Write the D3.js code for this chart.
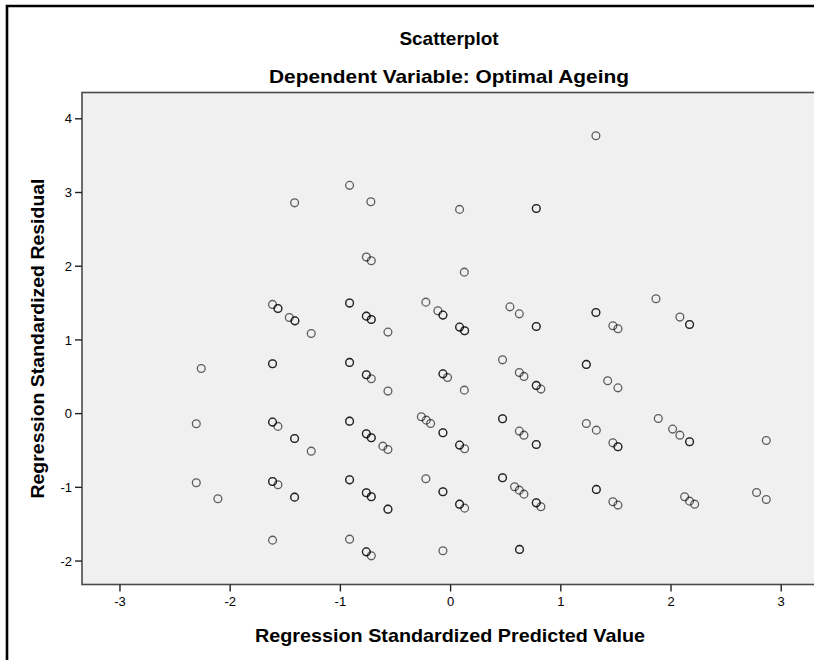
<!DOCTYPE html>
<html>
<head>
<meta charset="utf-8">
<script src="https://cdn.jsdelivr.net/npm/d3@7"></script>
<style>
    html, body { margin: 0; padding: 0; background: #fff; }
    svg { display: block; }
    text { font-family: "Liberation Sans", Arial, sans-serif; fill: #000; }
</style>
</head>
<body>
<div id="chart"></div>
<script>
var title = 'Scatterplot';
var subtitle = 'Dependent Variable: Optimal Ageing';
var xTitle = 'Regression Standardized Predicted Value';
var yTitle = 'Regression Standardized Residual';

var xTicks = [-3, -2, -1, 0, 1, 2, 3];
var yTicks = [-2, -1, 0, 1, 2, 3, 4];

// x = standardized predicted, y = standardized residual, n = overlapping cases
var predicted = [
    -1.411, -0.912, -0.719, 0.086, 0.782, 1.323, -0.76, -0.715, 0.129,
    -1.611, -1.562, -1.459, -1.408, -1.26, -0.912, -0.76, -0.715, -0.564,
    -0.22, -0.111, -0.065, 0.086, 0.132, 0.543, 0.628, 0.782,
    1.323, 1.477, 1.523, 1.868, 2.085, 2.173,
    -2.258, -1.611, -0.912, -0.76, -0.715, -0.564, -0.065, -0.023, 0.129,
    0.476, 0.628, 0.67, 0.782, 0.824, 1.236, 1.43, 1.523,
    -2.303, -1.611, -1.562, -1.411, -1.26, -0.912, -0.76, -0.715, -0.61, -0.564,
    -0.261, -0.216, -0.177, -0.065, 0.086, 0.132, 0.476, 0.628, 0.67, 0.782,
    1.236, 1.327, 1.477, 1.523, 1.889, 2.019, 2.085, 2.173, 2.869,
    -2.303, -2.107, -1.611, -1.562, -1.411, -0.912, -0.76, -0.715, -0.564,
    -0.22, -0.065, 0.086, 0.132, 0.476, 0.585, 0.628, 0.67, 0.782, 0.824,
    1.327, 1.477, 1.523, 2.128, 2.173, 2.219, 2.781, 2.869,
    -1.611, -0.912, -0.76, -0.715, -0.065, 0.63
];
var residual = [
    2.853, 3.09, 2.867, 2.764, 2.777, 3.763, 2.117, 2.067, 1.913,
    1.475, 1.42, 1.298, 1.252, 1.081, 1.493, 1.316, 1.271, 1.099,
    1.506, 1.388, 1.33, 1.167, 1.117, 1.442, 1.347, 1.176,
    1.366, 1.185, 1.144, 1.551, 1.303, 1.203,
    0.606, 0.669, 0.688, 0.52, 0.466, 0.299, 0.533, 0.484, 0.312,
    0.723, 0.552, 0.498, 0.376, 0.326, 0.661, 0.44, 0.343,
    -0.145, -0.122, -0.18, -0.344, -0.516, -0.109, -0.281, -0.335, -0.448, -0.493,
    -0.05, -0.095, -0.14, -0.267, -0.434, -0.484, -0.077, -0.244, -0.299, -0.425,
    -0.14, -0.231, -0.403, -0.457, -0.072, -0.217, -0.299, -0.389, -0.371,
    -0.945, -1.162, -0.927, -0.972, -1.14, -0.905, -1.081, -1.135, -1.303,
    -0.891, -1.067, -1.235, -1.289, -0.877, -0.999, -1.045, -1.099, -1.217, -1.271,
    -1.035, -1.203, -1.248, -1.135, -1.194, -1.235, -1.076, -1.171,
    -1.723, -1.71, -1.882, -1.936, -1.868, -1.849
];
var cases = [
    1, 1, 1, 1, 2, 1, 1, 1, 1,
    1, 2, 1, 2, 1, 2, 2, 2, 1,
    1, 1, 2, 2, 2, 1, 1, 2,
    2, 1, 1, 1, 1, 2,
    1, 2, 2, 2, 1, 1, 2, 1, 1,
    1, 1, 1, 2, 1, 2, 1, 1,
    1, 2, 1, 2, 1, 2, 2, 2, 1, 1,
    1, 1, 1, 2, 2, 1, 2, 1, 1, 2,
    1, 1, 1, 2, 1, 1, 1, 2, 1,
    1, 1, 2, 1, 2, 2, 2, 2, 2,
    1, 2, 2, 1, 2, 1, 1, 1, 2, 1,
    2, 1, 1, 1, 1, 1, 1, 1,
    1, 1, 2, 1, 1, 2
];

var width = 814, height = 660;
var plot = { left: 82, top: 92.5, right: 821.5, bottom: 584.5 };

var svg = d3.select('#chart').append('svg')
    .attr('width', width)
    .attr('height', height);

var x = d3.scaleLinear().domain([-3.34, 3.37]).range([plot.left, plot.right]);
var y = d3.scaleLinear().domain([-2.325, 4.35]).range([plot.bottom, plot.top]);

// frame around the output (only top and left visible)
svg.append('path')
    .attr('d', 'M7,' + height + 'V6H' + width)
    .attr('fill', 'none')
    .attr('stroke', '#000')
    .attr('stroke-width', 2.6);

// titles
svg.append('text')
    .attr('x', 449).attr('y', 45)
    .attr('text-anchor', 'middle')
    .attr('font-size', 19).attr('font-weight', 'bold')
    .text(title);
svg.append('text')
    .attr('x', 449).attr('y', 83)
    .attr('text-anchor', 'middle')
    .attr('font-size', 19).attr('font-weight', 'bold')
    .attr('textLength', 360).attr('lengthAdjust', 'spacingAndGlyphs')
    .text(subtitle);

// plot background
svg.append('rect')
    .attr('x', plot.left).attr('y', plot.top)
    .attr('width', plot.right - plot.left)
    .attr('height', plot.bottom - plot.top)
    .attr('fill', '#f0f0f0')
    .attr('stroke', '#4a4a4a')
    .attr('stroke-width', 1.6);

// axes (plain hyphen for negatives, as in the source)
var fmt = function(d) { return String(d); };
var xAxis = svg.append('g')
    .attr('transform', 'translate(0,' + plot.bottom + ')')
    .call(d3.axisBottom(x).tickValues(xTicks).tickSize(7).tickPadding(5).tickFormat(fmt));
var yAxis = svg.append('g')
    .attr('transform', 'translate(' + plot.left + ',0)')
    .call(d3.axisLeft(y).tickValues(yTicks).tickSize(7).tickPadding(3).tickFormat(fmt));

[xAxis, yAxis].forEach(function(a) {
    a.select('.domain').remove();
    a.selectAll('.tick line').attr('stroke', '#222').attr('stroke-width', 1.4);
    a.selectAll('.tick text')
        .attr('font-family', '"Liberation Sans", Arial, sans-serif')
        .attr('font-size', 13)
        .attr('fill', '#111');
});
yAxis.selectAll('.tick text').attr('dy', '0.36em');

svg.append('text')
    .attr('x', 450).attr('y', 642)
    .attr('text-anchor', 'middle')
    .attr('font-size', 19).attr('font-weight', 'bold')
    .attr('textLength', 390).attr('lengthAdjust', 'spacingAndGlyphs')
    .text(xTitle);
svg.append('text')
    .attr('transform', 'translate(44,' + ((plot.top + plot.bottom) / 2) + ') rotate(-90)')
    .attr('text-anchor', 'middle')
    .attr('font-size', 19).attr('font-weight', 'bold')
    .attr('textLength', 320).attr('lengthAdjust', 'spacingAndGlyphs')
    .text(yTitle);

// points, one circle per case so overlapping cases look darker
var points = [];
predicted.forEach(function(p, i) {
    for (var k = 0; k < cases[i]; k++) points.push({ x: p, y: residual[i] });
});

svg.append('g').selectAll('circle')
    .data(points)
    .enter().append('circle')
    .attr('cx', function(d) { return x(d.x); })
    .attr('cy', function(d) { return y(d.y); })
    .attr('r', 3.9)
    .attr('fill', 'none')
    .attr('stroke', 'rgba(0,0,0,0.62)')
    .attr('stroke-width', 1.3);
</script>
</body>
</html>
